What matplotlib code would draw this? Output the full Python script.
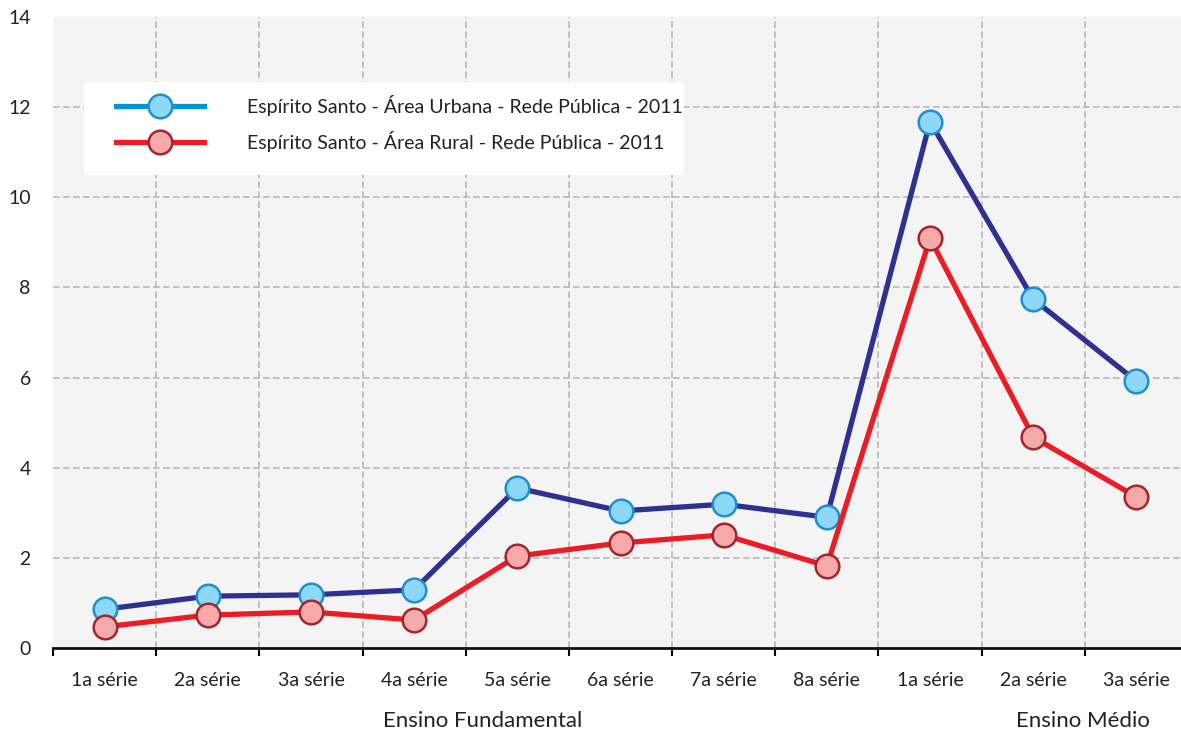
import numpy as np
import matplotlib.pyplot as plt
from matplotlib.lines import Line2D
from matplotlib.patches import Rectangle

plt.rcParams['font.family'] = ['Lato', 'DejaVu Sans']

series = ['1a série', '2a série', '3a série', '4a série', '5a série', '6a série',
          '7a série', '8a série', '1a série', '2a série', '3a série']
urbana = [0.86, 1.15, 1.18, 1.29, 3.55, 3.04, 3.19, 2.90, 11.68, 7.74, 5.92]
rural = [0.47, 0.73, 0.80, 0.62, 2.04, 2.33, 2.51, 1.82, 9.09, 4.68, 3.35]
yticks = [0, 2, 4, 6, 8, 10, 12, 14]
label_urbana = 'Espírito Santo - Área Urbana - Rede Pública - 2011'
label_rural = 'Espírito Santo - Área Rural - Rede Pública - 2011'

W, H = 1181, 730
x = np.arange(len(series))

fig = plt.figure(figsize=(W / 100, H / 100), dpi=100)
ax = fig.add_axes([53 / W, 1 - 648 / H, 1135 / W, 631 / H])
ax.set_facecolor('#f4f4f4')

# dashed grid: horizontal at the y ticks, vertical between categories
grid_kw = dict(color='#b8b8b8', linestyle=(0, (4, 2)), linewidth=1.2, zorder=0)
for yv in yticks[1:-1]:
    ax.axhline(yv, **grid_kw)
for xv in x[:-1] + 0.5:
    ax.axvline(xv, **grid_kw)

ax.plot(x, urbana, color='#2e3192', linewidth=3.8, marker='o', markersize=17,
        markerfacecolor='#8dd7f7', markeredgecolor='#1f8fce', markeredgewidth=1.8,
        zorder=3)
ax.plot(x, rural, color='#ed1c24', linewidth=3.8, marker='o', markersize=17,
        markerfacecolor='#f5a9ab', markeredgecolor='#a4262c', markeredgewidth=1.8,
        zorder=3)

ax.set_xlim(-0.5, len(series) - 0.5)
ax.set_ylim(0, 14)
ax.set_yticks(yticks)
ax.set_xticks(x)
ax.set_xticklabels(series)
ax.set_xticks(np.arange(len(series) + 1) - 0.5, minor=True)
ax.tick_params(axis='x', which='major', length=0, pad=17, labelsize=14, colors='#222222')
ax.tick_params(axis='x', which='minor', length=6, width=1.5, direction='out')
ax.tick_params(axis='y', length=0, pad=16, labelsize=14, colors='#222222')

for side in ['left', 'right', 'top']:
    ax.spines[side].set_visible(False)
ax.spines['bottom'].set_linewidth(2)
ax.spines['bottom'].set_color('#111111')

# group labels under the series ticks
ax.text(3.66, -0.116, 'Ensino Fundamental', transform=ax.get_xaxis_transform(),
        ha='center', va='center', fontsize=16, color='#222222')
ax.text(9.48, -0.116, 'Ensino Médio', transform=ax.get_xaxis_transform(),
        ha='center', va='center', fontsize=16, color='#222222')

# white legend panel
ax.add_patch(Rectangle((84 / W, 1 - 175 / H), 600 / W, 93 / H,
                       transform=fig.transFigure, facecolor='white',
                       edgecolor='none', zorder=2, clip_on=False))

handles = [
    Line2D([], [], color='#0096d6', linewidth=3.8, marker='o', markersize=17,
           markerfacecolor='#8dd7f7', markeredgecolor='#1f8fce', markeredgewidth=1.8),
    Line2D([], [], color='#ed1c24', linewidth=3.8, marker='o', markersize=17,
           markerfacecolor='#f5a9ab', markeredgecolor='#a4262c', markeredgewidth=1.8),
]
leg = ax.legend(handles, [label_urbana, label_rural], loc='upper left',
                bbox_to_anchor=(116 / W, 1 - 95 / H), bbox_transform=fig.transFigure,
                fontsize=14, frameon=False, borderaxespad=0, borderpad=0,
                handlelength=4.5, handletextpad=2.25, labelspacing=0.75)
leg.set_zorder(5)
for t in leg.get_texts():
    t.set_color('#222222')

fig.savefig('out.png', dpi=100)
